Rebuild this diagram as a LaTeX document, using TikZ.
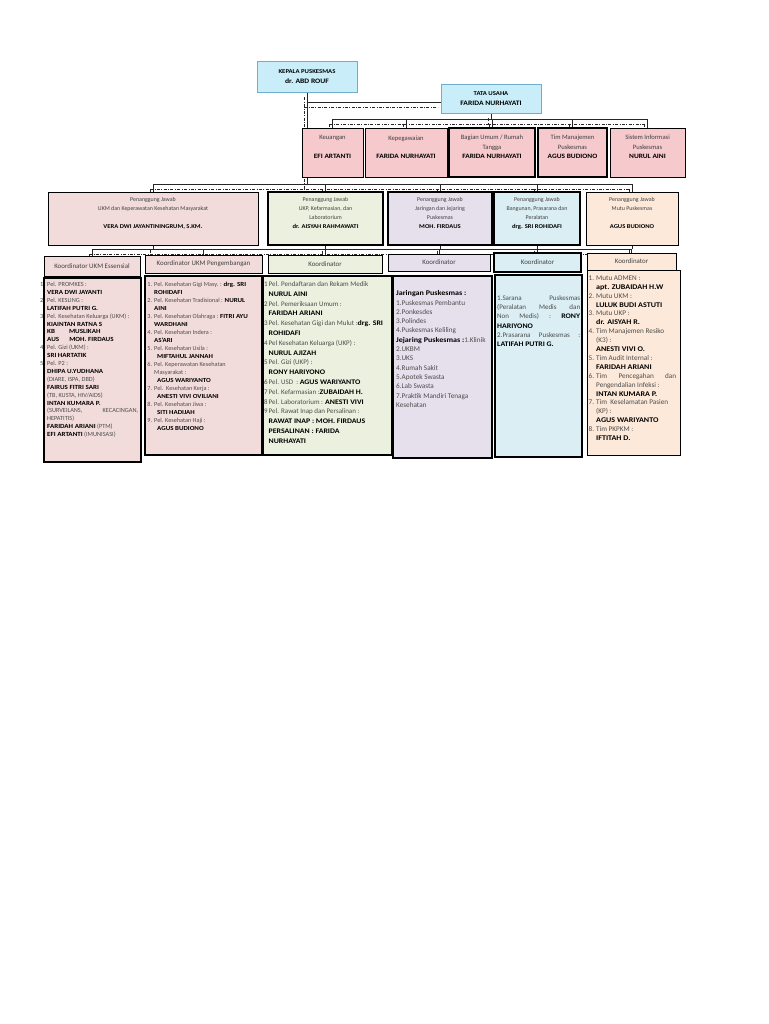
\documentclass[tikz,border=0pt]{standalone}
\usepackage{fontspec}
\setmainfont{Carlito}[BoldFeatures={FakeStretch=1.12}]
\usetikzlibrary{backgrounds}
\definecolor{kepcyan}{HTML}{C9EEF9}
\definecolor{kepline}{HTML}{6FAFCB}
\definecolor{tupink}{HTML}{F6C9CD}
\definecolor{ukmpink}{HTML}{F2DCDB}
\definecolor{ukpgreen}{HTML}{EBF1DE}
\definecolor{jarlav}{HTML}{E5E0EC}
\definecolor{bgnblue}{HTML}{DBEEF3}
\definecolor{mutupeach}{HTML}{FDE9D9}
\newcommand{\nama}[1]{{\bfseries\color{black}#1}}
\newcommand{\nomor}[2][2pt]{\leavevmode\llap{#2\hspace{#1}}}

\begin{document}
\begin{tikzpicture}[x=1pt,y=-1pt,
  box/.style={draw=black,line width=0.6pt,align=center,inner sep=1pt,text=black!75,
    font=\fontsize{6.6}{9.4}\selectfont},
  thickbox/.style={box,line width=1.3pt},
  pjbox/.style={box,font=\fontsize{5.9}{9.3}\selectfont},
  lift/.style={text depth=11pt},
  hdr/.style={box,font=\fontsize{6.9}{8}\selectfont},
  listbox/.style={draw=black,line width=1.3pt},
  listtxt/.style={anchor=north west,inner sep=0pt,align=left,text=black!70},
  conn/.style={draw=black!85,line width=0.6pt,
    preaction={draw=black!85,line width=0.6pt,dash pattern=on 3pt off 1.5pt on 0.8pt off 1.5pt,
      transform canvas={shift={(-3pt,-5pt)}}}}]
  \useasboundingbox (0,0) rectangle (768,1024);

  % Kepala dan Tata Usaha
  \node[box,draw=kepline,fill=kepcyan,text=black,font=\bfseries\fontsize{6}{10}\selectfont,
    minimum width=100pt,minimum height=31pt] (kepala) at (307,76.5)
    {KEPALA PUSKESMAS\\{\fontsize{6.8}{10}\selectfont dr. ABD ROUF}};
  \node[box,draw=kepline,fill=kepcyan,text=black,font=\bfseries\fontsize{6}{10}\selectfont,
    minimum width=100pt,minimum height=29pt] (tata) at (491,98.5)
    {TATA USAHA\\{\fontsize{6.8}{10}\selectfont FARIDA NURHAYATI}};

  % Sub bagian tata usaha
  \node[box,lift,fill=tupink,minimum width=61pt,minimum height=49pt] (keu) at (332.5,152.5)
    {Keuangan\\[9pt]\nama{EFI ARTANTI}};
  \node[box,lift,fill=tupink,minimum width=82pt,minimum height=49pt] (peg) at (406,152.5)
    {Kepegawaian\\[9pt]\nama{FARIDA NURHAYATI}};
  \node[thickbox,lift,fill=tupink,minimum width=86pt,minimum height=49pt] (bag) at (492,152.5)
    {Bagian Umum / Rumah\\Tangga\\\nama{FARIDA NURHAYATI}};
  \node[thickbox,lift,fill=tupink,minimum width=69pt,minimum height=49pt] (tim) at (572.5,152.5)
    {Tim Manajemen\\Puskesmas\\\nama{AGUS BUDIONO}};
  \node[box,lift,fill=tupink,minimum width=75pt,minimum height=49pt] (sim) at (647.5,152.5)
    {Sistem Informasi\\Puskesmas\\\nama{NURUL AINI}};

  % Penanggung jawab
  \node[pjbox,lift,fill=ukmpink,minimum width=210pt,minimum height=53pt] (ukm) at (153,218.5)
    {Penanggung Jawab\\UKM dan Keperawatan Kesehatan Masyarakat\\[9pt]\nama{VERA DWI JAYANTININGRUM, S.KM.}};
  \node[pjbox,lift,line width=1.3pt,fill=ukpgreen,minimum width=115pt,minimum height=53pt] (ukp) at (325.5,218.5)
    {Penanggung Jawab\\UKP, Kefarmasian, dan\\Laboratorium\\\nama{dr. AISYAH RAHMAWATI}};
  \node[pjbox,lift,line width=1.3pt,fill=jarlav,minimum width=104pt,minimum height=53pt] (jar) at (440,218.5)
    {Penanggung Jawab\\Jaringan dan Jejaring\\Puskesmas\\\nama{MOH. FIRDAUS}};
  \node[pjbox,lift,line width=1.3pt,fill=bgnblue,minimum width=86pt,minimum height=53pt] (bgn) at (537,218.5)
    {Penanggung Jawab\\Bangunan, Prasarana dan\\Peralatan\\\nama{drg. SRI ROHIDAFI}};
  \node[pjbox,lift,fill=mutupeach,minimum width=92pt,minimum height=53pt] (mutu) at (632,218.5)
    {Penanggung Jawab\\Mutu Puskesmas\\[9pt]\nama{AGUS BUDIONO}};

  % Koordinator
  \node[hdr,fill=ukmpink,minimum width=96pt,minimum height=20pt] (k1) at (92,266) {Koordinator UKM Essensial};
  \node[hdr,fill=ukmpink,minimum width=117pt,minimum height=18pt] (k2) at (203.5,264) {Koordinator UKM Pengembangan};
  \node[hdr,fill=ukpgreen,minimum width=114pt,minimum height=18pt] (k3) at (325,264) {Koordinator};
  \node[hdr,fill=jarlav,minimum width=102pt,minimum height=17pt] (k4) at (439,262.5) {Koordinator};
  \node[hdr,fill=bgnblue,line width=1.3pt,minimum width=87pt,minimum height=19pt] (k5) at (537.5,262.5) {Koordinator};
  \node[hdr,fill=mutupeach,minimum width=89pt,minimum height=17pt] (k6) at (631.5,261.5) {Koordinator};

  % Daftar pelayanan
  \node[listbox,fill=ukmpink,minimum width=97pt,minimum height=184pt] (l1) at (92.5,370) {};
  \node[listbox,fill=ukmpink,minimum width=117pt,minimum height=179pt] (l2) at (203.5,365.5) {};
  \node[listbox,fill=ukpgreen,minimum width=129pt,minimum height=179pt] (l3) at (327.5,365.5) {};
  \node[listbox,fill=jarlav,minimum width=99pt,minimum height=182pt] (l4) at (442.5,367) {};
  \node[listbox,fill=bgnblue,minimum width=87pt,minimum height=182pt] (l5) at (538.5,366) {};
  \node[listbox,fill=mutupeach,line width=0.6pt,minimum width=93pt,minimum height=185pt] (l6) at (633.5,362.5) {};

  \node[listtxt,font=\fontsize{6.3}{7.9}\selectfont] (t1) at (47,282) {%
    \nomor[4pt]{1}Pel. PROMKES :\\
    \nama{VERA DWI JAYANTI}\\
    \nomor[4pt]{2}Pel. KESLING :\\
    \nama{LATIFAH PUTRI G.}\\
    \nomor[4pt]{3}Pel. Kesehatan Keluarga (UKM) :\\
    \nama{KIAINTAN RATNA S}\\
    \nama{KB\hspace{14pt}MUSLIKAH}\\
    \nama{AUS\hspace{10pt}MOH. FIRDAUS}\\
    \nomor[4pt]{4}Pel. Gizi (UKM) :\\
    \nama{SRI HARTATIK}\\
    \nomor[4pt]{5}Pel. P2 :\\
    \nama{DHIPA U.YUDHANA}\\
    (DIARE, ISPA, DBD)\\
    \nama{FAIRUS FITRI SARI}\\
    (TB, KUSTA, HIV/AIDS)\\
    \nama{INTAN KUMARA P.}\\
    \makebox[91pt][s]{(SURVEILANS,\hfill KECACINGAN,}\\
    HEPATITIS)\\
    \nama{FARIDAH ARIANI} (PTM)\\
    \nama{EFI ARTANTI} (IMUNISASI)};

  \node[listtxt,font=\fontsize{6.2}{8}\selectfont] (t2) at (154,282) {%
    \nomor{1.}Pel. Kesehatan Gigi Masy. : \nama{drg. SRI}\\
    \nama{ROHIDAFI}\\
    \nomor{2.}Pel. Kesehatan Tradisional : \nama{NURUL}\\
    \nama{AINI}\\
    \nomor{3.}Pel. Kesehatan Olahraga : \nama{FITRI AYU}\\
    \nama{WARDHANI}\\
    \nomor{4.}Pel. Kesehatan Indera :\\
    \nama{AS'ARI}\\
    \nomor{5.}Pel. Kesehatan Usila :\\
    \hspace{3pt}\nama{MIFTAHUL JANNAH}\\
    \nomor{6.}Pel. Keperawatan Kesehatan\\
    Masyarakat :\\
    \hspace{3pt}\nama{AGUS WARIYANTO}\\
    \nomor{7.}Pel.\ \ Kesehatan Kerja :\\
    \hspace{3pt}\nama{ANESTI VIVI OVILIANI}\\
    \nomor{8.}Pel. Kesehatan Jiwa :\\
    \hspace{3pt}\nama{SITI HADIJAH}\\
    \nomor{9.}Pel. Kesehatan Haji :\\
    \hspace{3pt}\nama{AGUS BUDIONO}};

  \node[listtxt,font=\fontsize{7}{9.8}\selectfont] (t3) at (268.5,281.5) {%
    \nomor[1pt]{1}Pel. Pendaftaran dan Rekam Medik\\
    \nama{NURUL AINI}\\
    \nomor[1pt]{2}Pel. Pemeriksaan Umum :\\
    \nama{FARIDAH ARIANI}\\
    \nomor[1pt]{3}Pel. Kesehatan Gigi dan Mulut :\nama{drg. SRI}\\
    \nama{ROHIDAFI}\\
    \nomor[1pt]{4}Pel Kesehatan Keluarga (UKP) :\\
    \nama{NURUL AJIZAH}\\
    \nomor[1pt]{5}Pel. Gizi (UKP) :\\
    \nama{RONY HARIYONO}\\
    \nomor[1pt]{6}Pel. USD\ \ : \nama{AGUS WARIYANTO}\\
    \nomor[1pt]{7}Pel. Kefarmasian :\nama{ZUBAIDAH H.}\\
    \nomor[1pt]{8}Pel. Laboratorium : \nama{ANESTI VIVI}\\
    \nomor[1pt]{9}Pel. Rawat Inap dan Persalinan :\\
    \nama{RAWAT INAP : MOH. FIRDAUS}\\
    \nama{PERSALINAN : FARIDA}\\
    \nama{NURHAYATI}};

  \node[listtxt,font=\fontsize{7.2}{9.3}\selectfont] (t4) at (396,290.5) {%
    \nama{Jaringan Puskesmas :}\\
    1.Puskesmas Pembantu\\
    2.Ponkesdes\\
    3.Polindes\\
    4.Puskesmas Keliling\\
    \nama{Jejaring Puskesmas :}1.Klinik\\
    2.UKBM\\
    3.UKS\\
    4.Rumah Sakit\\
    5.Apotek Swasta\\
    6.Lab Swasta\\
    7.Praktik Mandiri Tenaga\\
    Kesehatan};

  \node[listtxt,font=\fontsize{7}{9.2}\selectfont] (t5) at (497,295.5) {%
    \makebox[83pt][s]{1.Sarana\hfill Puskesmas}\\
    \makebox[83pt][s]{(Peralatan\hfill Medis\hfill dan}\\
    \makebox[83pt][s]{Non\hfill Medis)\hfill :\hfill \nama{RONY}}\\
    \nama{HARIYONO}\\
    \makebox[83pt][s]{2.Prasarana\hfill Puskesmas\hfill :}\\
    \nama{LATIFAH PUTRI G.}};

  \node[listtxt,font=\fontsize{7.2}{8.9}\selectfont] (t6) at (596,275.5) {%
    \nomor{1.}Mutu ADMEN :\\
    \nama{apt. ZUBAIDAH H.W}\\
    \nomor{2.}Mutu UKM :\\
    \nama{LULUK BUDI ASTUTI}\\
    \nomor{3.}Mutu UKP :\\
    \nama{dr. AISYAH R.}\\
    \nomor{4.}Tim Manajemen Resiko\\
    (K3) :\\
    \nama{ANESTI VIVI O.}\\
    \nomor{5.}Tim Audit Internal :\\
    \nama{FARIDAH ARIANI}\\
    \nomor{6.}\makebox[80pt][s]{Tim\hfill Pencegahan\hfill dan}\\
    Pengendalian Infeksi :\\
    \nama{INTAN KUMARA P.}\\
    \nomor{7.}Tim\ \ Keselamatan Pasien\\
    (KP) :\\
    \nama{AGUS WARIYANTO}\\
    \nomor{8.}Tim PKPKM :\\
    \nama{IFTITAH D.}};

  % Garis penghubung
  \begin{pgfonlayer}{background}
    \fill[white] (0,0) rectangle (768,1024);
    \coordinate (bus2) at (0,119);
    \coordinate (bus3) at (0,184);
    \coordinate (bus4) at (0,249);
    \draw[conn] (kepala.south) -- (kepala.south |- bus3);
    \draw[conn] (kepala.south |- 0,102) -- (tata.west |- 0,102);
    \draw[conn] (tata.south) -- (tata.south |- bus2);
    \draw[conn] (keu.north |- bus2) -- (sim.north |- bus2);
    \foreach \b in {keu,peg,bag,tim,sim} \draw[conn] (\b.north |- bus2) -- (\b.north);
    \draw[conn] (ukm.north |- bus3) -- (mutu.north |- bus3);
    \foreach \b in {ukm,ukp,jar,bgn,mutu} {
      \draw[conn] (\b.north |- bus3) -- (\b.north);
      \draw[conn] (\b.south) -- (\b.south |- bus4);
    }
    \draw[conn] (k1.north |- bus4) -- (k6.north |- bus4);
    \foreach \k in {k1,k2,k3,k4,k5,k6} \draw[conn] (\k.north |- bus4) -- (\k.north);
  \end{pgfonlayer}
\end{tikzpicture}
\end{document}
